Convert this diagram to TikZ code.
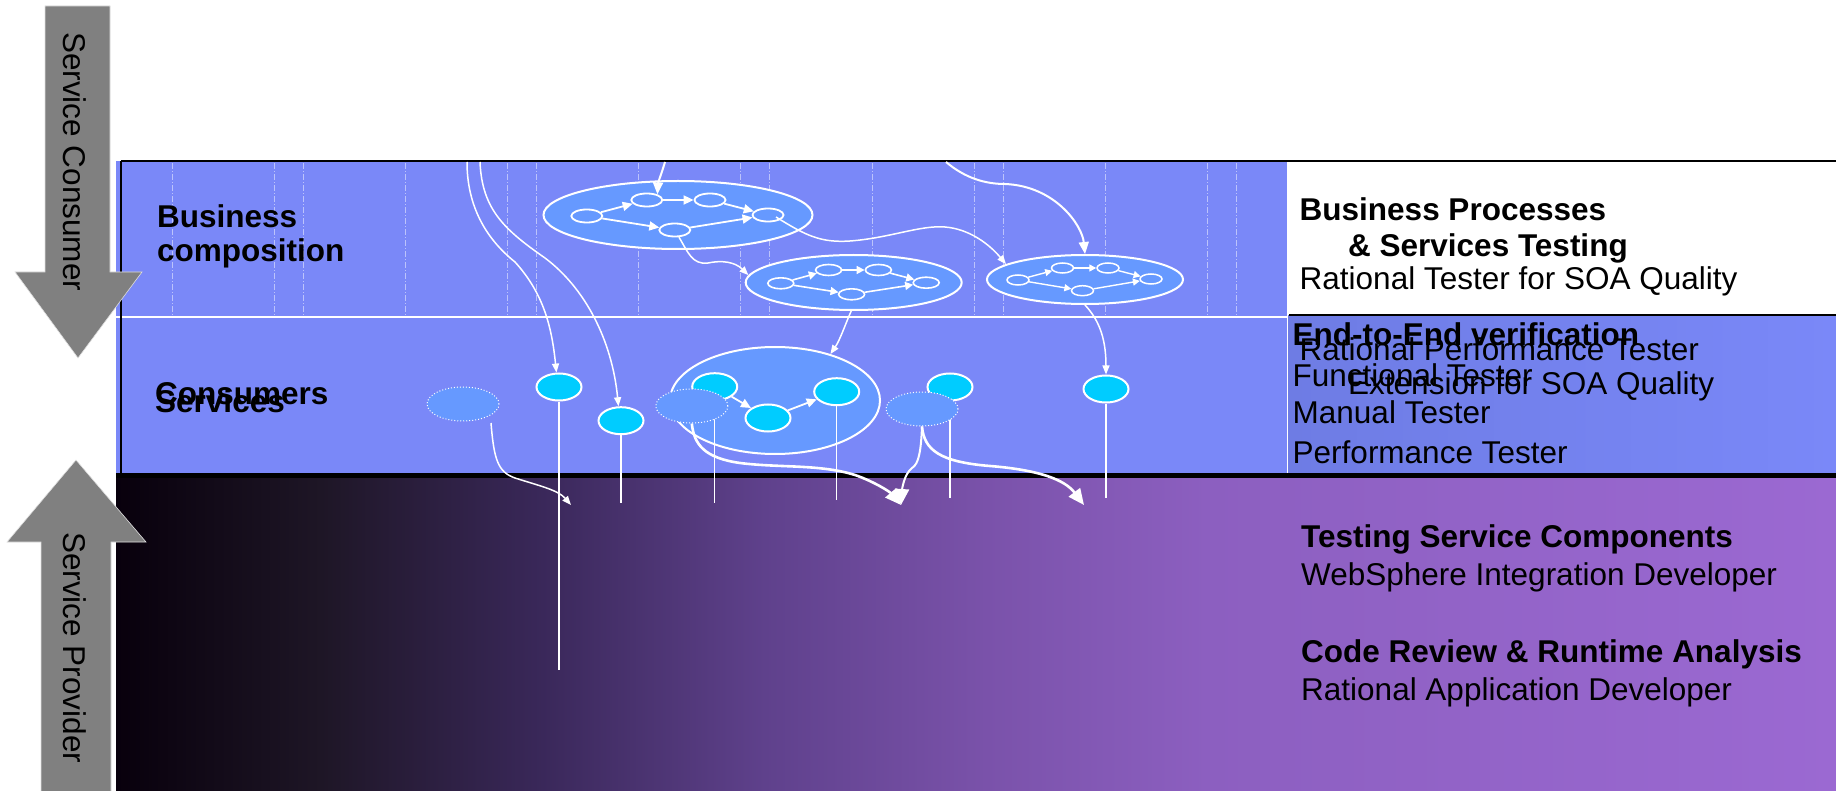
\documentclass[tikz,border=0pt]{standalone}
\usepackage{fontspec}
\setmainfont{Liberation Sans}
\usetikzlibrary{arrows.meta,shapes.geometric,calc}
\definecolor{panelblue}{RGB}{122,136,248}
\definecolor{panelblueL}{RGB}{110,124,228}
\definecolor{ellblue}{RGB}{102,153,255}
\definecolor{cyanfill}{RGB}{0,204,255}
\definecolor{arrowgray}{RGB}{128,128,128}
\definecolor{gz}{RGB}{8,0,12}
\definecolor{ga}{RGB}{30,22,38}
\definecolor{gb}{RGB}{58,40,90}
\definecolor{gc}{RGB}{95,65,140}
\definecolor{gd}{RGB}{122,82,170}
\definecolor{ge}{RGB}{140,95,192}
\definecolor{gf}{RGB}{155,105,210}
\pgfdeclarehorizontalshading{provgrad}{100bp}{color(0bp)=(gz); color(25bp)=(gz); color(30.96bp)=(ga); color(37.4bp)=(gb); color(43.85bp)=(gc); color(50.3bp)=(gd); color(56.7bp)=(ge); color(75bp)=(gf); color(100bp)=(gf)}
\tikzset{
  bigell/.style={ellipse, fill=ellblue, draw=white, line width=2pt, inner sep=0pt},
  smA/.style={ellipse, fill=ellblue, draw=white, line width=1.8pt, inner sep=0pt, minimum width=31pt, minimum height=13pt},
  smB/.style={ellipse, fill=ellblue, draw=white, line width=1.6pt, inner sep=0pt, minimum width=26pt, minimum height=11pt},
  smC/.style={ellipse, fill=ellblue, draw=white, line width=1.5pt, inner sep=0pt, minimum width=22pt, minimum height=10pt},
  cnode/.style={ellipse, fill=cyanfill, draw=white, line width=2pt, inner sep=0pt, minimum width=45pt, minimum height=27pt},
  dnode/.style={ellipse, fill=ellblue, draw=white, dotted, line width=1pt, inner sep=0pt, minimum width=72pt, minimum height=34pt},
  garrA/.style={draw=white, line width=1.8pt, -{Triangle[length=10pt,width=9pt]}},
  garrB/.style={draw=white, line width=1.6pt, -{Triangle[length=8pt,width=8pt]}},
  garrC/.style={draw=white, line width=1.4pt, -{Triangle[length=7pt,width=7pt]}},
  conS/.style={draw=white, line width=1.5pt, -{Triangle[length=9pt,width=7pt]}},
  conM/.style={draw=white, line width=2pt, -{Triangle[length=12pt,width=10pt]}},
  conL/.style={draw=white, line width=2.6pt, -{Triangle[length=16pt,width=14pt]}},
  plainw/.style={draw=white, line width=1.5pt},
  vdash/.style={draw=white, opacity=0.5, line width=0.7pt, dash pattern=on 6pt off 2pt on 1pt off 2pt},
  lbl/.style={anchor=base west, inner sep=0pt, font=\fontsize{31.5}{34}\selectfont},
  blbl/.style={lbl, font=\fontsize{31.5}{34}\selectfont\bfseries},
  garrow/.style={fill=arrowgray, draw=white!75!gray, line width=0.6pt}
}
\begin{document}
\begin{tikzpicture}[x=1pt,y=-1pt]
\useasboundingbox (0,0) rectangle (1836,791);
% backgrounds
\shade[shading=provgrad] (116,475) rectangle (1836,791);
\fill[panelblue] (116,161) rectangle (1287,474);
\shade[left color=panelblueL, right color=panelblue] (1288,316) rectangle (1836,474);
\foreach \k in {0,...,4}{
  \foreach \o in {172,274,303}{
    \draw[vdash] ({\o+233.3*\k},163) -- ({\o+233.3*\k},315);
  }
}
\draw[white, line width=2pt] (116,317) -- (1287,317);
\draw[white, line width=1.5pt] (1287.5,317) -- (1287.5,473);
\draw[black, line width=2.5pt] (121,161) -- (1836,161);
\draw[black, line width=1.2pt] (121,161) -- (121,474);
\draw[black, line width=1.5pt] (1289,315) -- (1836,315);
\draw[black, line width=5pt] (116,475) -- (1836,475);

% process ellipse 1
\node[bigell, minimum width=269pt, minimum height=68pt] (E1) at (678,215) {};
\node[smA] (n11) at (586.8,216) {};
\node[smA] (n12) at (646.8,200) {};
\node[smA] (n13) at (710,200) {};
\node[smA] (n14) at (768,215) {};
\node[smA] (n15) at (674.8,230) {};
\draw[garrA] (n11) -- (n12);
\draw[garrA] (n12) -- (n13);
\draw[garrA] (n13) -- (n14);
\draw[garrA] (n11) -- (n15);
\draw[garrA] (n15) -- (n14);
% process ellipse 2
\node[bigell, minimum width=216pt, minimum height=55pt] (E2) at (853.7,282.5) {};
\node[smB] (n21) at (780.8,283.3) {};
\node[smB] (n22) at (828.6,270) {};
\node[smB] (n23) at (878.4,270) {};
\node[smB] (n24) at (926.2,282.7) {};
\node[smB] (n25) at (851.6,294.3) {};
\draw[garrB] (n21) -- (n22);
\draw[garrB] (n22) -- (n23);
\draw[garrB] (n23) -- (n24);
\draw[garrB] (n21) -- (n25);
\draw[garrB] (n25) -- (n24);
% process ellipse 3
\node[bigell, minimum width=196pt, minimum height=49pt] (E3) at (1085,279.5) {};
\node[smC] (n31) at (1018,280) {};
\node[smC] (n32) at (1062.5,268) {};
\node[smC] (n33) at (1108,268) {};
\node[smC] (n34) at (1151,279) {};
\node[smC] (n35) at (1082.5,290.7) {};
\draw[garrC] (n31) -- (n32);
\draw[garrC] (n32) -- (n33);
\draw[garrC] (n33) -- (n34);
\draw[garrC] (n31) -- (n35);
\draw[garrC] (n35) -- (n34);

% services composite
\node[bigell, minimum width=210pt, minimum height=107pt] (E4) at (775,400.5) {};
\node[cnode] (c1) at (559,387) {};
\node[cnode] (c2) at (621,420.7) {};
\node[cnode] (c3) at (714.7,386.7) {};
\node[cnode] (c4) at (768,418) {};
\node[cnode] (c5) at (836.7,391.7) {};
\node[cnode] (c6) at (950,387) {};
\node[cnode] (c7) at (1106,389) {};
\draw[garrA] (c3) -- (c4);
\draw[garrA] (c4) -- (c5);

% drop lines
\coordinate (e1) at (559,670);
\coordinate (e2) at (621,503);
\coordinate (e3) at (714.7,503);
\coordinate (e5) at (836.7,500);
\coordinate (e6) at (950,498);
\coordinate (e7) at (1106,498);
\draw[plainw] (c1.south) -- (e1);
\draw[plainw] (c2.south) -- (e2);
\draw[plainw] (c3.south) -- (e3);
\draw[plainw] (c5.south) -- (e5);
\draw[plainw] (c6.south) -- (e6);
\draw[plainw] (c7.south) -- (e7);

% unresolved (dashed) services
\node[dnode] (d1) at (463,404) {};
\node[dnode] (d2) at (691.8,406) {};
\node[dnode] (d3) at (922,409) {};

% connectors in composition
\coordinate (t1) at (665,162);
\coordinate (t2) at (946,162);
\coordinate (t3) at (467,162);
\coordinate (t4) at (480,162);
\draw[conM] (t1) .. controls (662,172) and (658,183) .. (n12.28);
\draw[conS] ($(n14.center)+(8,2)$) .. controls (805,235) and (820,243) .. (850,241) .. controls (890,238) and (920,225) .. (945,227) .. controls (970,229) and (990,245) .. (E3.169);
\draw[conS] (n15.-60) .. controls (688,252) and (692,265) .. (708,263) .. controls (722,260) and (735,262) .. (E2.176);
\draw[conM] (t2) .. controls (965,178) and (985,184) .. (1005,184) .. controls (1055,186) and (1082,225) .. (E3.north);
\draw[conS] (E2.265) .. controls (845,325) and (840,340) .. (E4.40);
\draw[conS] (E3.south) .. controls (1097,318) and (1106,335) .. (c7.north);
\draw[conS] (t3) .. controls (467,205) and (485,238) .. (515,262) .. controls (545,295) and (552,330) .. (c1.100);
\draw[conS] (t4) .. controls (482,210) and (505,230) .. (545,258) .. controls (585,288) and (612,340) .. (c2.100);

% connectors from services to providers
\coordinate (a1) at (571,505);
\coordinate (a2) at (901,505);
\coordinate (a3) at (1084,505);
\draw[conS] ($(d1.center)+(28,19)$) .. controls (494,460) and (498,472) .. (515,478) .. controls (540,486) and (558,490) .. (a1);
\draw[conL] (d2.south) .. controls (694,445) and (705,458) .. (740,463) .. controls (780,468) and (820,464) .. (855,475) .. controls (875,482) and (890,492) .. (a2);
\draw[conL, line width=2pt] (d3.south) .. controls (921,450) and (919,464) .. (912,468) .. controls (904,474) and (902,490) .. (a2);
\draw[conL] (d3.south) .. controls (924,450) and (940,462) .. (990,466) .. controls (1040,470) and (1065,480) .. (a3);

% left labels
\node[blbl] (lb1) at (157,228) {Business};
\node[blbl] (lb2) at (157,262) {composition};
\node[blbl] (lb3) at (155,404) {Consumers};
\node[blbl] (lb4) at (155,412) {Services};

% right labels
\node[blbl] (bp1) at (1299.5,221) {Business Processes};
\node[blbl] (bp2) at (1348,257) {\& Services Testing};
\node[lbl] (bp3) at (1299.5,290) {Rational Tester for SOA Quality};
\node[blbl] (ee1) at (1292.5,345) {End-to-End verification};
\node[lbl] (ee2) at (1299.5,360) {Rational Performance Tester};
\node[lbl] (ee3) at (1292.5,387) {Functional Tester};
\node[lbl] (ee4) at (1348,395) {Extension for SOA Quality};
\node[lbl] (ee5) at (1292.5,423) {Manual Tester};
\node[lbl] (ee6) at (1292.5,463) {Performance Tester};
\node[blbl] (ts1) at (1301,547) {Testing Service Components};
\node[lbl] (ts2) at (1301,585) {WebSphere Integration Developer};
\node[blbl] (cr1) at (1301,662) {Code Review \& Runtime Analysis};
\node[lbl] (cr2) at (1301,700) {Rational Application Developer};

% side arrows
\draw[garrow] (45,6) -- (110,6) -- (110,272) -- (142,272) -- (78,358) -- (15,272) -- (45,272) -- cycle;
\draw[garrow] (41,792) -- (41,542) -- (7,542) -- (76,460) -- (146,542) -- (111,542) -- (111,792);
\node[lbl, rotate=-90] (sc) at (63,32) {Service Consumer};
\node[lbl, rotate=-90] (sp) at (63,532) {Service Provider};
\end{tikzpicture}
\end{document}
